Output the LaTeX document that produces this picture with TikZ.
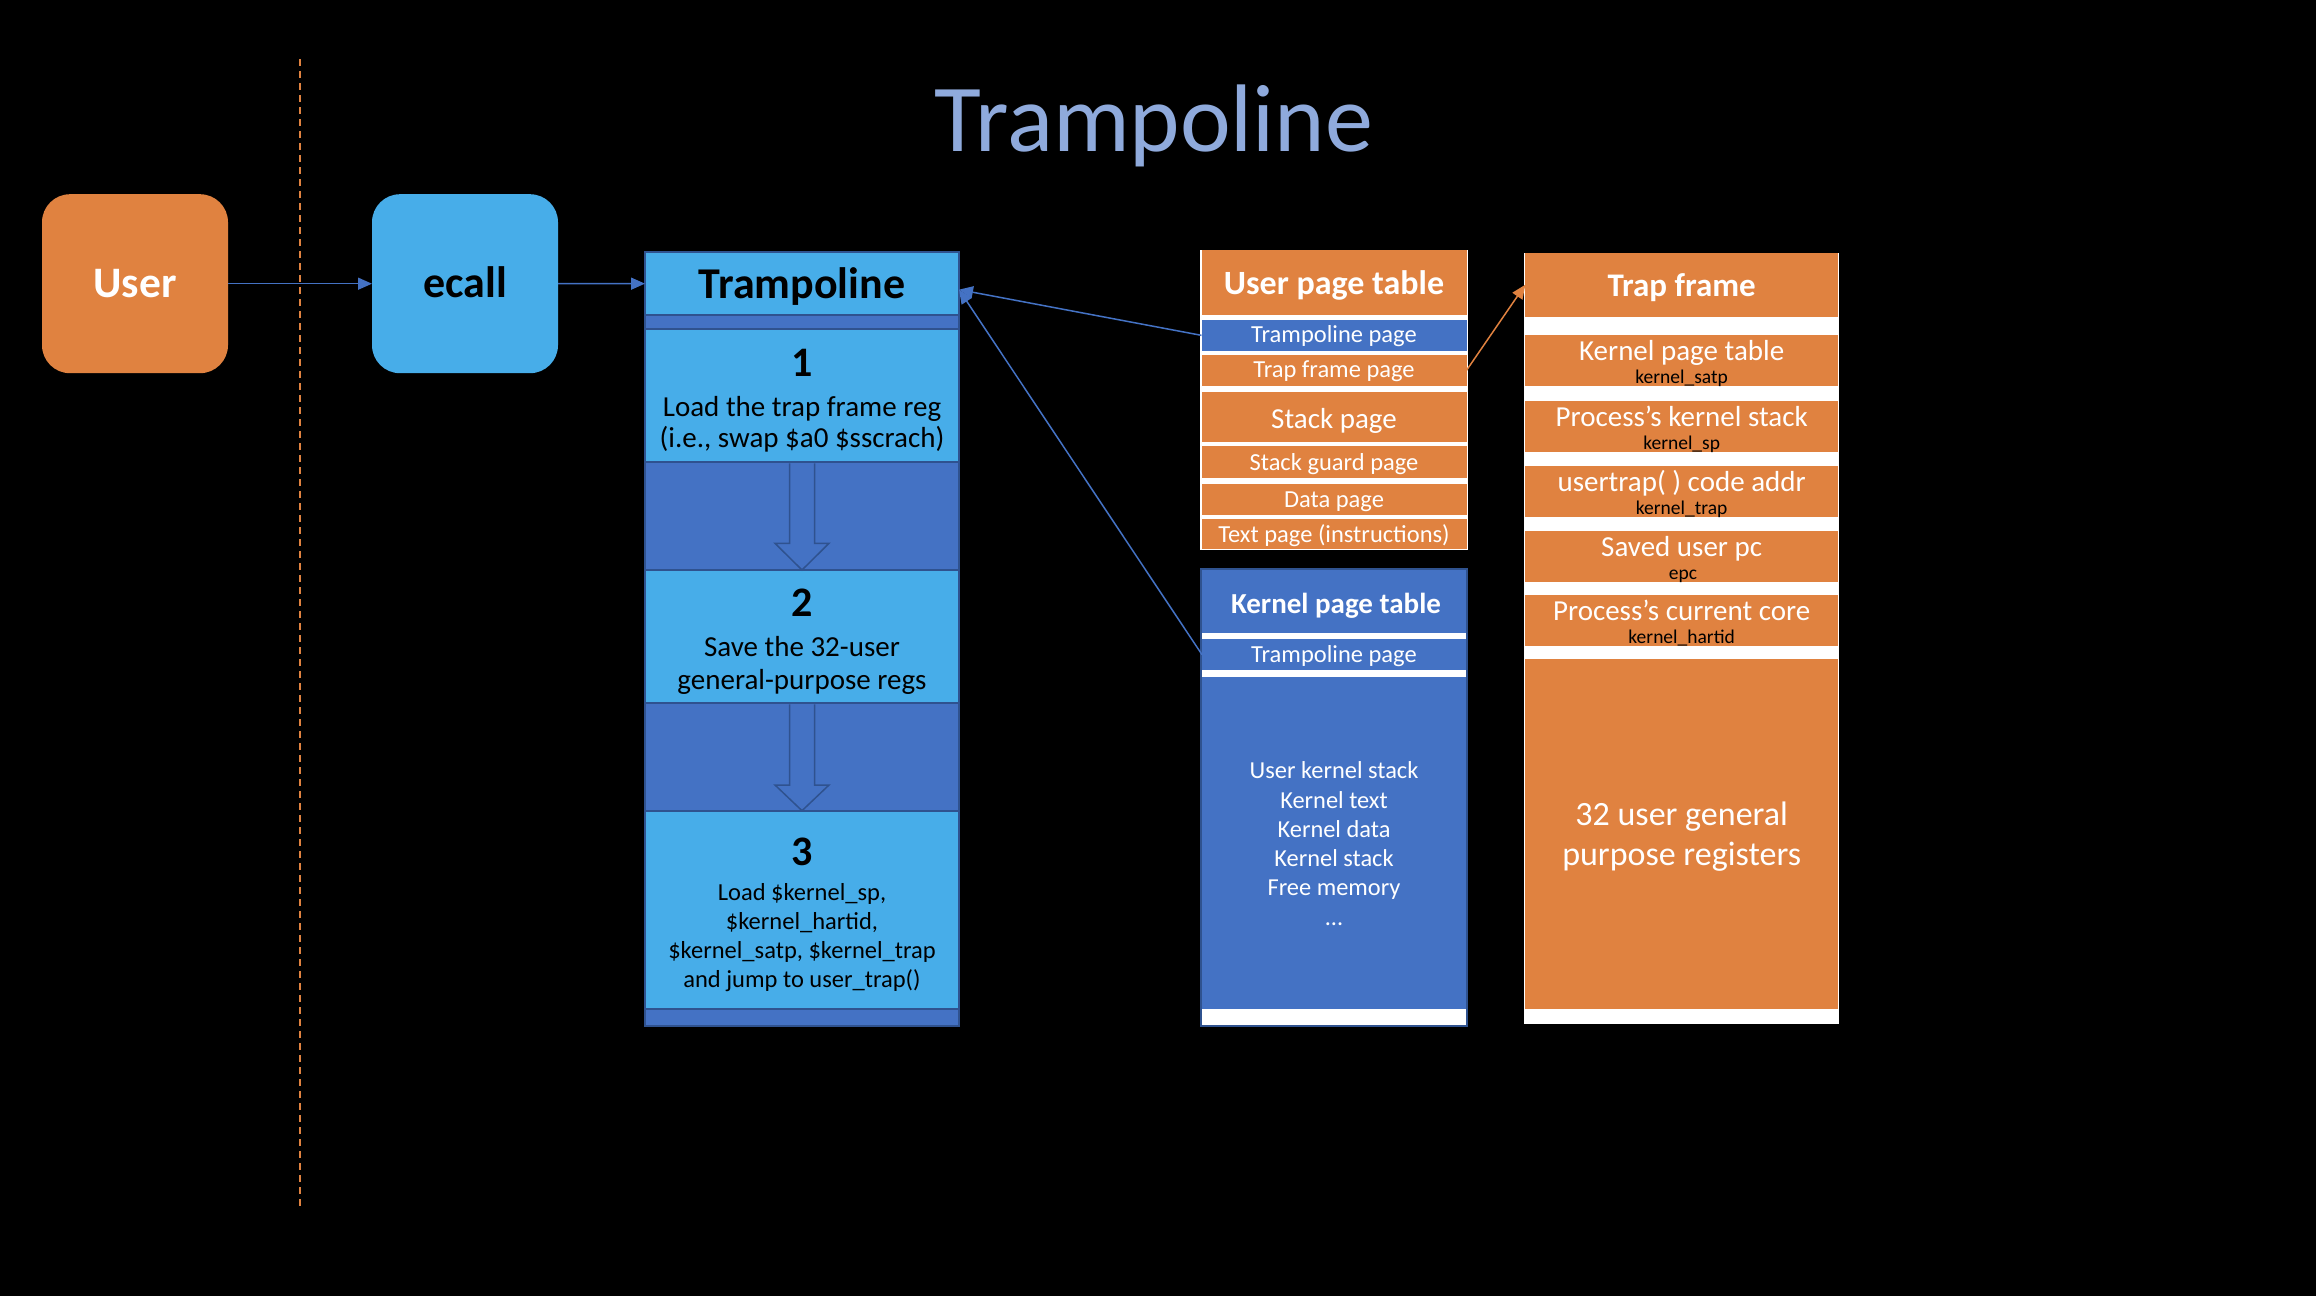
\documentclass[tikz,border=0pt]{standalone}
\usepackage{fontspec}
\setmainfont{Carlito}
\usetikzlibrary{arrows.meta,calc}
\definecolor{orng}{HTML}{E08240}
\definecolor{lblue}{HTML}{47ADE9}
\definecolor{midblue}{HTML}{4472C4}
\definecolor{bordblue}{HTML}{2F528F}
\definecolor{titleblue}{HTML}{8FAADC}
\newcommand\myfs[1]{\fontsize{#1}{#1}\selectfont}
\tikzset{
  cell/.style={inner sep=0pt, outer sep=0pt},
  txt/.style={inner sep=0pt, outer sep=0pt, anchor=base},
  wtxt/.style={txt, text=white},
  conn/.style={draw=midblue, line width=1.5pt, -{Triangle[length=14pt,width=12pt]}},
  oconn/.style={draw=orng, line width=1.5pt, -{Triangle[length=14pt,width=12pt]}},
  hollow/.style={fill=midblue, draw=bordblue, line width=1.5pt, line join=miter},
  dashline/.style={draw=orng, line width=1.5pt, dash pattern=on 7pt off 5pt},
}
\begin{document}
\begin{tikzpicture}[x=1pt,y=-1pt]
\fill[black] (0,0) rectangle (2316,1296);
\useasboundingbox (0,0) rectangle (2316,1296);

% title
\node[txt, text=titleblue, font=\myfs{96}] (title) at (1154,151) {Trampoline};

% dashed separator
\coordinate (dtop) at (300,59);
\coordinate (dbot) at (300,1207);
\draw[dashline] (dtop) -- (dbot);

% user and ecall
\node[cell, fill=orng, rounded corners=28pt, minimum width=186pt, minimum height=179pt] (user) at (135,283.7) {};
\node[wtxt, font={\bfseries\myfs{43.5}}] (usert) at (135,297) {User};
\node[cell, fill=lblue, rounded corners=28pt, minimum width=186pt, minimum height=179pt] (ecall) at (465,283.7) {};
\node[txt, font={\bfseries\myfs{44}}] (ecallt) at (465,297) {ecall};

% trampoline column
\node[cell, fill=midblue, draw=bordblue, line width=2pt, minimum width=314pt, minimum height=773.7pt] (tcol) at (802,638.85) {};
\node[cell, fill=lblue, draw=bordblue, line width=2pt, minimum width=314pt, minimum height=63.3pt] (tramp) at (802,283.65) {};
\node[cell, fill=lblue, draw=bordblue, line width=2pt, minimum width=314pt, minimum height=133pt] (b1) at (802,395.8) {};
\node[cell, fill=lblue, draw=bordblue, line width=2pt, minimum width=314pt, minimum height=133.3pt] (b2) at (802,636.65) {};
\node[cell, fill=lblue, draw=bordblue, line width=2pt, minimum width=314pt, minimum height=198.3pt] (b3) at (802,909.85) {};
\draw[hollow] (789.5,463.3) -- (789.5,543.3) -- (775,543.3) -- (802,570) -- (829,543.3) -- (814.5,543.3) -- (814.5,463.3);
\draw[hollow] (789.5,704.3) -- (789.5,785) -- (775,785) -- (802,810.7) -- (829,785) -- (814.5,785) -- (814.5,704.3);

\node[txt, font={\bfseries\myfs{44}}] (trampt) at (802,298.3) {Trampoline};
\node[txt, font={\bfseries\myfs{42}}] (n1) at (802,376.7) {1};
\node[txt, font=\myfs{29}] (b1l1) at (802,416.7) {Load the trap frame reg};
\node[txt, font=\myfs{29}] (b1l2) at (802,447.5) {(i.e., swap \$a0 \$sscrach)};
\node[txt, font={\bfseries\myfs{42}}] (n2) at (802,616) {2};
\node[txt, font=\myfs{29}] (b2l1) at (802,656) {Save the 32-user};
\node[txt, font=\myfs{29}] (b2l2) at (802,689.3) {general-purpose regs};
\node[txt, font={\bfseries\myfs{42}}] (n3) at (802,865) {3};
\node[txt, font=\myfs{24.5}] (b3l1) at (802,900) {Load \$kernel\_sp,};
\node[txt, font=\myfs{24.5}] (b3l2) at (802,929.3) {\$kernel\_hartid,};
\node[txt, font=\myfs{24.5}] (b3l3) at (802,958.3) {\$kernel\_satp, \$kernel\_trap};
\node[txt, font=\myfs{24.5}] (b3l4) at (802,987.3) {and jump to user\_trap()};

% user page table
\node[cell, fill=white, minimum width=267.4pt, minimum height=300pt] (uptbg) at (1334.1,399.5) {};
\node[cell, fill=orng, minimum width=265pt, minimum height=65pt] (upthead) at (1334,282.5) {};
\node[cell, fill=midblue, minimum width=265pt, minimum height=30.7pt] (upttramp) at (1334,335.35) {};
\node[cell, fill=orng, minimum width=265pt, minimum height=30.7pt] (upttf) at (1334,370.35) {};
\node[cell, fill=orng, minimum width=265pt, minimum height=50pt] (uptstack) at (1334,416.7) {};
\node[cell, fill=orng, minimum width=265pt, minimum height=31.7pt] (uptguard) at (1334,461.85) {};
\node[cell, fill=orng, minimum width=265pt, minimum height=31pt] (uptdata) at (1334,499.5) {};
\node[cell, fill=orng, minimum width=265pt, minimum height=29.7pt] (upttext) at (1334,534.15) {};
\node[wtxt, font={\bfseries\myfs{34}}] (uptheadt) at (1334,294) {User page table};
\node[wtxt, font=\myfs{24.5}] (upttrampt) at (1334,342.5) {Trampoline page};
\node[wtxt, font=\myfs{24.5}] (upttft) at (1334,377.5) {Trap frame page};
\node[wtxt, font=\myfs{29}] (uptstackt) at (1334,428) {Stack page};
\node[wtxt, font=\myfs{24.5}] (uptguardt) at (1334,470.5) {Stack guard page};
\node[wtxt, font=\myfs{24.5}] (uptdatat) at (1334,507.5) {Data page};
\node[wtxt, font=\myfs{24.5}] (upttextt) at (1334,542.5) {Text page (instructions)};

% kernel page table
\node[cell, fill=white, minimum width=266.6pt, minimum height=456.7pt] (kbg) at (1334,797.65) {};
\node[cell, fill=midblue, minimum width=264pt, minimum height=64pt] (khead) at (1334,601.3) {};
\node[cell, fill=midblue, minimum width=264pt, minimum height=30.7pt] (ktramp) at (1334,654.65) {};
\node[cell, fill=midblue, minimum width=264pt, minimum height=331.7pt] (kbody) at (1334,843.15) {};
\node[cell, draw=bordblue, line width=2pt, minimum width=266.6pt, minimum height=456.7pt] (kframe) at (1334,797.65) {};
\node[wtxt, font={\bfseries\myfs{29}}] (kheadt) at (1336,613.8) {Kernel page table};
\node[wtxt, font=\myfs{24.5}] (ktrampt) at (1334,662.3) {Trampoline page};
\node[wtxt, font=\myfs{24.4}] (kb1) at (1334,778.8) {User kernel stack};
\node[wtxt, font=\myfs{24.4}] (kb2) at (1334,808.5) {Kernel text};
\node[wtxt, font=\myfs{24.4}] (kb3) at (1334,837.5) {Kernel data};
\node[wtxt, font=\myfs{24.4}] (kb4) at (1334,866.5) {Kernel stack};
\node[wtxt, font=\myfs{24.4}] (kb5) at (1334,895.5) {Free memory};
\node[wtxt, font=\myfs{24.4}] (kb6) at (1334,925) {…};

% trap frame
\node[cell, fill=white, minimum width=314.7pt, minimum height=770.9pt] (tfbg) at (1681.65,638.15) {};
\node[cell, fill=orng, minimum width=312.7pt, minimum height=64pt] (tfhead) at (1681.65,284.7) {};
\node[cell, fill=orng, minimum width=312.7pt, minimum height=50.7pt] (tf1) at (1681.65,360.35) {};
\node[cell, fill=orng, minimum width=312.7pt, minimum height=50.7pt] (tf2) at (1681.65,426.35) {};
\node[cell, fill=orng, minimum width=312.7pt, minimum height=50.7pt] (tf3) at (1681.65,491.35) {};
\node[cell, fill=orng, minimum width=312.7pt, minimum height=50.7pt] (tf4) at (1681.65,556.35) {};
\node[cell, fill=orng, minimum width=312.7pt, minimum height=50.7pt] (tf5) at (1681.65,620.35) {};
\node[cell, fill=orng, minimum width=312.7pt, minimum height=350pt] (tf6) at (1681.65,834) {};
\node[wtxt, font={\bfseries\myfs{33}}] (tfheadt) at (1681.65,296.7) {Trap frame};
\node[wtxt, font=\myfs{29}] (tf1a) at (1681.65,360.5) {Kernel page table};
\node[txt, font=\myfs{19.5}] (tf1b) at (1681.65,383.5) {kernel\_satp};
\node[wtxt, font=\myfs{29}] (tf2a) at (1681.65,426.5) {Process’s kernel stack};
\node[txt, font=\myfs{19.5}] (tf2b) at (1681.65,449.5) {kernel\_sp};
\node[wtxt, font=\myfs{29}] (tf3a) at (1681.65,491.5) {usertrap( ) code addr};
\node[txt, font=\myfs{19.5}] (tf3b) at (1681.65,514.5) {kernel\_trap};
\node[wtxt, font=\myfs{29}] (tf4a) at (1681.65,556.5) {Saved user pc};
\node[txt, font=\myfs{19.5}] (tf4b) at (1683,579.5) {epc};
\node[wtxt, font=\myfs{29}] (tf5a) at (1681.65,620.5) {Process’s current core};
\node[txt, font=\myfs{19.5}] (tf5b) at (1681.65,643.5) {kernel\_hartid};
\node[wtxt, font=\myfs{34}] (tf6a) at (1681.65,825.5) {32 user general};
\node[wtxt, font=\myfs{34}] (tf6b) at (1681.65,865.5) {purpose registers};

% connectors
\draw[conn] (user.east) -- (ecall.west);
\draw[conn] (ecall.east) -- (tramp.west);
\draw[conn] (upttramp.west) -- ($(tramp.east)+(0,6)$);
\draw[conn] (ktramp.west) -- ($(tramp.east)+(0,6)$);
\draw[oconn] (upttf.east) -- (tfhead.west);
\end{tikzpicture}
\end{document}
